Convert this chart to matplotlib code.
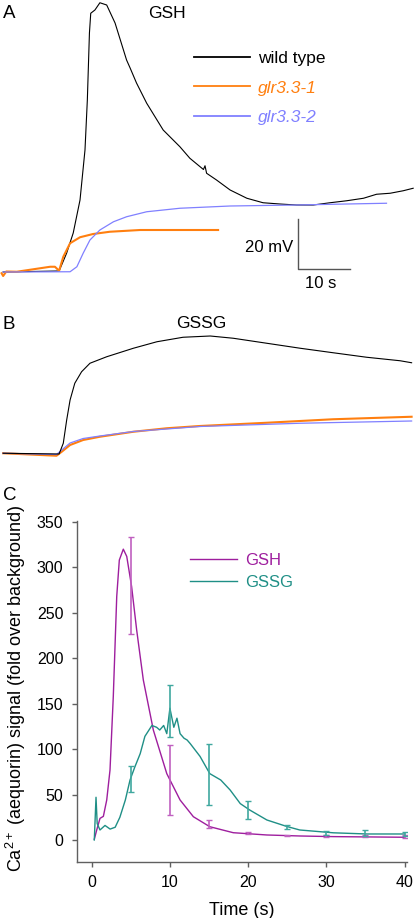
import matplotlib
matplotlib.use('Agg')
import matplotlib.pyplot as plt
import numpy as np

plt.rcParams['font.family'] = ['Liberation Sans', 'DejaVu Sans']
plt.rcParams['mathtext.fontset'] = 'custom'
plt.rcParams['mathtext.rm'] = 'Liberation Sans'
plt.rcParams['mathtext.it'] = 'Liberation Sans:italic'

W, H = 415, 918

# Panel A: membrane potential after GSH (time in s, depolarisation in mV)
a_wt_t = [0.6, 11.3, 12.75, 14.0, 15.3, 16.25, 16.7, 17.1, 17.35, 18.15, 19.1, 20.4, 22.0,
          24.2, 24.9, 26.1, 28.05, 31.2, 34.4, 36.3, 38.9, 39.2, 39.5, 41.4, 44.0, 47.2,
          50.3, 53.5, 56.7, 59.9, 63.1, 66.3, 69.5, 72.0, 74.6, 77.1, 79.0]
a_wt_v = [0.0, 0.4, 7.6, 15.6, 28.8, 48.8, 68.8, 95.6, 103.5, 104.8, 107.7, 106.8, 99.6,
          84.8, 81.5, 75.6, 67.5, 56.8, 50.1, 45.5, 41.0, 42.5, 39.5, 36.8, 32.8, 29.5,
          27.7, 27.2, 26.8, 26.8, 27.7, 28.5, 29.5, 31.1, 31.5, 32.5, 33.5]
a_m1_t = [0.3, 0.6, 1.2, 3.2, 6.4, 9.6, 10.5, 11.3, 12.1, 13.4, 15.3, 17.8, 21.0, 26.8, 41.7]
a_m1_v = [-0.5, -1.6, 0.2, 0.1, 1.1, 2.1, 2.1, 0.5, 6.1, 11.5, 13.9, 15.2, 16.1, 16.8, 16.8]
a_m2_t = [0.6, 13.4, 14.7, 15.9, 17.2, 19.1, 21.7, 24.2, 28.05, 34.4, 44.0, 56.7, 66.3, 73.9]
a_m2_v = [0.0, 0.1, 2.1, 7.5, 12.8, 16.8, 20.1, 22.1, 24.1, 25.5, 26.4, 26.8, 27.2, 27.5]

# Panel B: membrane potential after GSSG
b_wt_t = [0.6, 11.3, 12.1, 12.75, 13.4, 14.3, 15.6, 17.2, 20.4, 25.5, 30.0, 35.0, 40.2,
          44.6, 51.0, 57.4, 63.7, 70.1, 76.5, 78.7]
b_wt_v = [0.0, -0.3, 4.0, 13.3, 21.3, 28.0, 32.6, 36.0, 38.6, 42.0, 44.6, 46.4, 46.9,
          46.0, 44.0, 42.0, 40.2, 38.4, 37.0, 36.2]
b_m1_t = [0.6, 10.8, 11.8, 13.4, 15.9, 19.1, 25.5, 31.9, 38.2, 51.0, 63.7, 78.7]
b_m1_v = [0.0, -1.0, 0.6, 3.3, 5.3, 6.6, 8.6, 10.0, 10.9, 12.2, 13.6, 14.6]
b_m2_t = [0.6, 10.8, 11.8, 13.4, 15.9, 19.1, 25.5, 38.2, 57.4, 78.7]
b_m2_v = [0.0, -0.5, 1.3, 4.1, 5.9, 6.9, 8.7, 10.7, 12.0, 12.9]

# Panel C: aequorin Ca2+ signal
gsh_t = [0.33, 0.64, 1.06, 1.49, 1.92, 2.34, 2.76, 3.2, 3.53, 4.04, 4.48, 5.1, 5.75, 6.6,
         7.88, 9.6, 11.3, 13.0, 15.1, 18.1, 22.4, 26.6, 30.9, 40.0]
gsh_v = [0.8, 11, 23.8, 26, 44, 77, 158, 268, 308, 320, 312, 279, 231, 176,
         121, 73, 44, 25.6, 14.6, 8, 5.5, 4.4, 3.7, 3.0]
gssg_t = [0.33, 0.55, 0.7, 1.06, 1.7, 2.35, 3.0, 3.6, 4.3, 4.9, 5.5, 6.2, 6.8, 7.7, 8.3,
          8.7, 9.2, 9.6, 10.0, 10.5, 10.9, 11.3, 11.8, 12.2, 12.6, 13.85, 15.1, 16.5,
          17.7, 19.0, 20.2, 22.4, 24.9, 26.6, 30.9, 35.2, 40.0]
gssg_v = [0, 47, 18, 11, 16, 12, 14, 25, 44, 66, 80, 95, 114, 126, 124,
          121, 126, 117, 145, 124, 134, 117, 112, 110, 106, 92, 73, 66,
          55, 40, 33, 22, 15, 11, 7.9, 6.6, 6.6]
err_t = [5, 10, 15, 20, 25, 30, 35, 40]
gsh_lo = [227, 27, 13, 7, 4.5, 3.5, 3, 2.5]
gsh_hi = [333, 105, 22, 9, 6, 5.5, 5, 5]
gssg_lo = [53, 113, 38.5, 23, 12, 5.5, 4, 4]
gssg_hi = [81, 171, 106, 43, 16, 10.3, 11, 8.8]

c_black = 'black'
c_orange = '#ff7f0f'
c_blue = '#8080ff'
c_gsh = '#9e1e9e'
c_gssg = '#1f8f86'


def fx(x):
    return x / W


def fy(y):
    return 1 - y / H


fig = plt.figure(figsize=(W / 100, H / 100), dpi=100)

# ---- panel A
axA = fig.add_axes([0, fy(295), 1, 295 / H])
axA.plot(a_wt_t, a_wt_v, color=c_black, lw=0.8, label='wild type')
axA.plot(a_m1_t, a_m1_v, color=c_orange, lw=1.5, label='glr3.3-1')
axA.plot(a_m2_t, a_m2_v, color=c_blue, lw=0.9, label='glr3.3-2')
axA.set_xlim(0, W / 5.23)
axA.set_ylim(-9.2, 108.8)
axA.axis('off')

# scale bar 20 mV / 10 s
bar_t0, bar_v0 = 56.9, 1.1
axA.plot([bar_t0, bar_t0, bar_t0 + 10], [bar_v0 + 20, bar_v0, bar_v0], color='#555555', lw=1.0)
fig.text(fx(293), fy(247), '20 mV', ha='right', va='center', fontsize=12)
fig.text(fx(321), fy(283), '10 s', ha='center', va='center', fontsize=12)

legA = axA.legend(loc='upper left', bbox_to_anchor=(fx(194), fy(51)), bbox_transform=fig.transFigure,
                  frameon=False, fontsize=12.5, handlelength=3.2, handletextpad=0.5,
                  labelspacing=0.82, borderpad=0, borderaxespad=0)
for txt, col, st in zip(legA.get_texts(), [c_black, c_orange, c_blue], ['normal', 'italic', 'italic']):
    txt.set_color(col)
    txt.set_style(st)
for ln in legA.get_lines():
    ln.set_linewidth(1.3)

fig.text(fx(3), fy(13), 'A', ha='left', va='center', fontsize=13.5)
fig.text(fx(167), fy(14), 'GSH', ha='center', va='center', fontsize=12.5)

# ---- panel B
axB = fig.add_axes([0, fy(480), 1, 180 / H])
axB.plot(b_m1_t, b_m1_v, color=c_orange, lw=1.5)
axB.plot(b_m2_t, b_m2_v, color=c_blue, lw=0.9)
axB.plot(b_wt_t, b_wt_v, color=c_black, lw=0.8)
axB.set_xlim(0, W / 5.23)
axB.set_ylim(-10.7, 61.3)
axB.axis('off')
fig.text(fx(3), fy(325), 'B', ha='left', va='center', fontsize=13.5)
fig.text(fx(201.7), fy(323), 'GSSG', ha='center', va='center', fontsize=12.5)

# ---- panel C
axC = fig.add_axes([fx(76.7), fy(861.7), 330 / W, (861.7 - 521) / H])
axC.plot(gsh_t, gsh_v, color=c_gsh, lw=1.0, label='GSH')
axC.plot(gssg_t, gssg_v, color=c_gssg, lw=1.0, label='GSSG')
gsh_lo, gsh_hi = np.array(gsh_lo), np.array(gsh_hi)
gssg_lo, gssg_hi = np.array(gssg_lo), np.array(gssg_hi)
axC.errorbar(err_t, (gsh_lo + gsh_hi) / 2, yerr=(gsh_hi - gsh_lo) / 2, fmt='none',
             ecolor='#c060c0', elinewidth=1.2, capsize=2.5, capthick=1.0)
axC.errorbar(err_t, (gssg_lo + gssg_hi) / 2, yerr=(gssg_hi - gssg_lo) / 2, fmt='none',
             ecolor='#40a89f', elinewidth=1.2, capsize=2.5, capthick=1.0)
axC.set_xlim(-1.92, 40.28)
axC.set_ylim(-23.9, 351)
axC.set_xticks([0, 10, 20, 30, 40])
axC.set_yticks(range(0, 351, 50))
for s in ['top', 'right']:
    axC.spines[s].set_visible(False)
for s in ['left', 'bottom']:
    axC.spines[s].set_color('#606060')
    axC.spines[s].set_linewidth(1.0)
axC.tick_params(direction='out', length=3.6, width=1.0, color='#606060', labelsize=11.5, pad=6)
axC.set_xlabel('Time (s)', fontsize=13)
axC.xaxis.set_label_coords(0.5, -0.118)
fig.text(fx(16), fy(688), r'Ca$^{2+}$ (aequorin) signal (fold over background)',
         rotation=90, ha='center', va='center', fontsize=13)
legC = axC.legend(loc='upper left', bbox_to_anchor=(fx(190), fy(553)), bbox_transform=fig.transFigure,
                  frameon=False, fontsize=12, handlelength=2.8, handletextpad=0.5,
                  labelspacing=0.42, borderpad=0, borderaxespad=0)
for txt, col in zip(legC.get_texts(), [c_gsh, c_gssg]):
    txt.set_color(col)
fig.text(fx(3), fy(495), 'C', ha='left', va='center', fontsize=13.5)

fig.savefig('out.png', dpi=100)
